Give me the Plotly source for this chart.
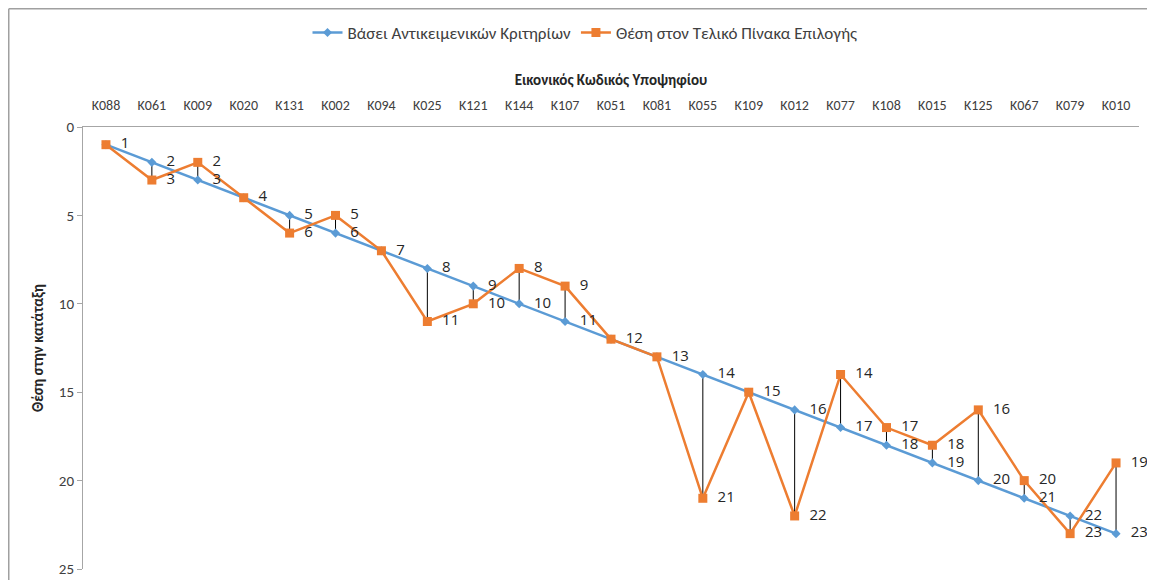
import plotly.graph_objects as go

categories = ["K088", "K061", "K009", "K020", "K131", "K002", "K094", "K025", "K121", "K144",
              "K107", "K051", "K081", "K055", "K109", "K012", "K077", "K108", "K015", "K125",
              "K067", "K079", "K010"]
objective_rank = [1, 2, 3, 4, 5, 6, 7, 8, 9, 10, 11, 12, 13, 14, 15, 16, 17, 18, 19, 20, 21, 22, 23]
final_rank = [1, 3, 2, 4, 6, 5, 7, 11, 10, 8, 9, 12, 13, 21, 15, 22, 14, 17, 18, 16, 20, 23, 19]

name_blue = "Βάσει Αντικειμενικών Κριτηρίων"
name_orange = "Θέση στον Τελικό Πίνακα Επιλογής"

BLUE = "#5B9BD5"
ORANGE = "#ED7D31"
FONT = "Carlito, Liberation Sans Narrow, Liberation Sans, sans-serif"
LBL = dict(family="Open Sans, Liberation Sans, sans-serif", size=15, color="#262626")

# high-low connector lines built from the data
hx, hy = [], []
for c, a, b in zip(categories, objective_rank, final_rank):
    hx += [c, c, None]
    hy += [a, b, None]

blue_text = [str(a) for a in objective_rank]
orange_text = ["" if a == b else str(b) for a, b in zip(objective_rank, final_rank)]

fig = go.Figure()
fig.add_trace(go.Scatter(x=hx, y=hy, mode="lines", line=dict(color="black", width=1),
                         showlegend=False, hoverinfo="skip"))
fig.add_trace(go.Scatter(x=categories, y=objective_rank, name=name_blue,
                         mode="lines+markers",
                         line=dict(color=BLUE, width=2.5),
                         marker=dict(symbol="diamond", size=7, color=BLUE)))
fig.add_trace(go.Scatter(x=categories, y=final_rank, name=name_orange,
                         mode="lines+markers",
                         line=dict(color=ORANGE, width=2.5),
                         marker=dict(symbol="square", size=9, color=ORANGE)))
# data labels (invisible wide markers push the text right of the points)
fig.add_trace(go.Scatter(x=categories, y=objective_rank, mode="markers+text", text=blue_text,
                         textposition="middle right", textfont=LBL, cliponaxis=False,
                         marker=dict(size=22, opacity=0), showlegend=False, hoverinfo="skip"))
fig.add_trace(go.Scatter(x=categories, y=final_rank, mode="markers+text", text=orange_text,
                         textposition="middle right", textfont=LBL, cliponaxis=False,
                         marker=dict(size=22, opacity=0), showlegend=False, hoverinfo="skip"))

# page body has an 8px margin, so figure pixel = reference pixel - 8
W, H = 1139, 572
L, R, T, B = 75, 8, 119, 11
pw, ph = W - L - R, H - T - B

fig.update_layout(
    width=W, height=H,
    margin=dict(l=L, r=R, t=T, b=B, autoexpand=False),
    paper_bgcolor="white", plot_bgcolor="white",
    font=dict(family=FONT, size=14, color="#404040"),
    showlegend=True,
    legend=dict(orientation="h", x=(577 - L) / pw, xanchor="center",
                y=(H - B - 25) / ph, yanchor="middle",
                font=dict(family=FONT, size=17, color="#404040"),
                itemwidth=30, traceorder="normal"),
    xaxis=dict(side="top", type="category", showline=True, linecolor="#A6A6A6",
               linewidth=1, ticks="", showgrid=False, zeroline=False, automargin=False,
               ticklabelstandoff=10,
               tickfont=dict(family=FONT, size=14, color="#404040"),
               title=dict(text="<b>Εικονικός Κωδικός Υποψηφίου</b>",
                          font=dict(family=FONT, size=15, color="#262626"), standoff=8),
               range=[-0.5, len(categories) - 0.5]),
    yaxis=dict(range=[25, 0], tick0=0, dtick=5, showline=True, linecolor="#A6A6A6",
               linewidth=1, ticks="outside", ticklen=5, tickcolor="#A6A6A6",
               showgrid=False, zeroline=False, automargin=False,
               tickfont=dict(family=FONT, size=15, color="#404040"),
               title=dict(text="<b>Θέση στην κατάταξη</b>",
                          font=dict(family=FONT, size=15, color="#262626"), standoff=11)),
    shapes=[
        dict(type="line", xref="paper", yref="paper",
             x0=(0.75 - L) / pw, x1=(W + 5 - L) / pw,
             y0=(H - B - 0.75) / ph, y1=(H - B - 0.75) / ph,
             line=dict(color="#A0A0A0", width=1.5)),
        dict(type="line", xref="paper", yref="paper",
             x0=(0.75 - L) / pw, x1=(0.75 - L) / pw,
             y0=(H - B - 0.75) / ph, y1=-0.1,
             line=dict(color="#A0A0A0", width=1.5)),
    ],
)

fig.write_html("out.html")
